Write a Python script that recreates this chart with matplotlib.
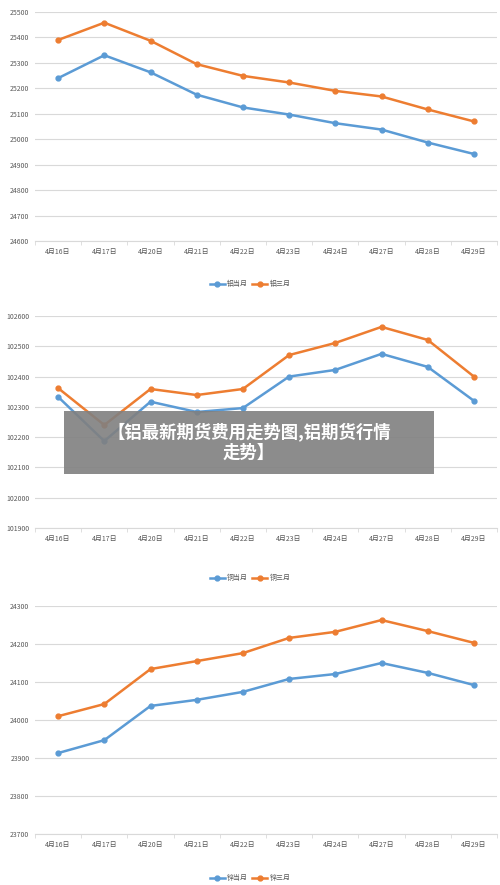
import matplotlib
matplotlib.use("Agg")
import matplotlib.pyplot as plt
import numpy as np

plt.rcParams['font.family'] = ['Noto Sans CJK SC', 'DejaVu Sans']

dates = ["4月16日","4月17日","4月20日","4月21日","4月22日","4月23日","4月24日","4月27日","4月28日","4月29日"]
al_cur = [25240,25330,25263,25175,25125,25097,25063,25038,24987,24942]
al_3m = [25390,25458,25387,25295,25249,25223,25190,25168,25117,25070]
cu_cur = [102333,102187,102317,102283,102296,102400,102422,102475,102432,102320]
cu_3m = [102362,102240,102359,102339,102359,102471,102511,102564,102521,102400]
zn_cur = [23913,23947,24037,24053,24074,24108,24121,24150,24124,24092]
zn_3m = [24010,24042,24134,24155,24176,24216,24232,24263,24234,24203]

W, H = 500, 885
fig = plt.figure(figsize=(W/100, H/100), dpi=100)
blue, orange = '#5b9bd5', '#ed7d31'

panels = [
    (al_cur, al_3m, ("铝当月", "铝三月"), (24600, 25500, 100), 12, 241, 284),
    (cu_cur, cu_3m, ("铜当月", "铜三月"), (101900, 102600, 100), 316, 528, 578),
    (zn_cur, zn_3m, ("锌当月", "锌三月"), (23700, 24300, 100), 606, 834, 878),
]
x = np.arange(len(dates))
for cur, m3, labels, (lo, hi, st), top, bot, leg_y in panels:
    ax = fig.add_axes([35/W, 1-bot/H, 462/W, (bot-top)/H])
    ax.plot(x, cur, color=blue, lw=1.8, marker='o', ms=3.5, label=labels[0])
    ax.plot(x, m3, color=orange, lw=1.8, marker='o', ms=3.5, label=labels[1])
    ax.set_xlim(-0.5, 9.5)
    ax.set_ylim(lo, hi)
    ax.set_yticks(np.arange(lo, hi+1, st))
    ax.set_yticklabels([str(v) for v in np.arange(lo, hi+1, st)], fontsize=5, color='#595959')
    ax.yaxis.grid(True, color='#d9d9d9', lw=0.8)
    ax.set_axisbelow(True)
    for s in ['top', 'right', 'left']:
        ax.spines[s].set_visible(False)
    ax.spines['bottom'].set_color('#d9d9d9')
    ax.tick_params(axis='y', length=0, pad=4)
    ax.set_xticks(x)
    ax.set_xticklabels(dates, fontsize=5, color='#595959')
    ax.tick_params(axis='x', length=0, pad=5)
    ax.set_xticks(np.arange(-0.5, 10, 1), minor=True)
    ax.tick_params(axis='x', which='minor', length=3, color='#d9d9d9')
    fig.legend(handles=ax.get_lines(), labels=list(labels), loc='center',
               bbox_to_anchor=(0.5, 1-leg_y/H), ncol=2, frameon=False,
               fontsize=5, handlelength=2.2, columnspacing=0.6, handletextpad=0.3,
               labelcolor='#595959')

fig.patches.append(matplotlib.patches.Rectangle((64/W, 1-474/H), 370/W, 63/H,
                   transform=fig.transFigure, facecolor='#808080', alpha=0.9, zorder=10))
fig.text(249/W, 1-442/H, "【铝最新期货费用走势图,铝期货行情\n走势】", ha='center', va='center',
         color='white', fontsize=12.5, fontweight='bold', linespacing=1.25, zorder=11)

fig.savefig("out.png", dpi=100, facecolor='white')
